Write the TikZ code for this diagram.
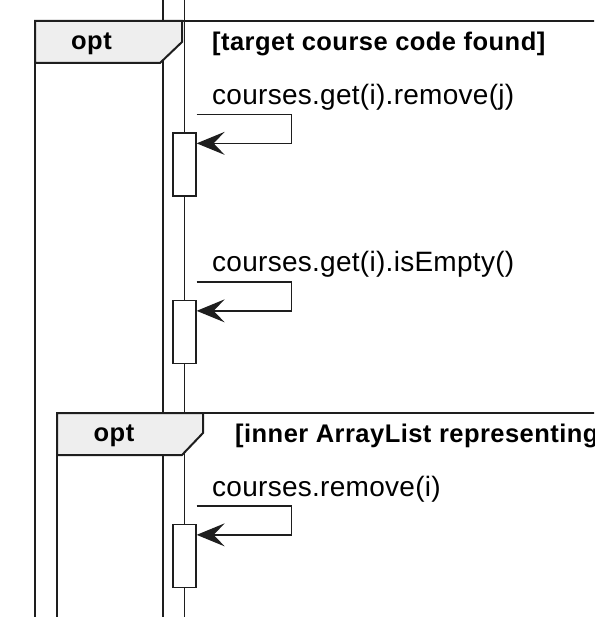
\documentclass[tikz,border=0pt]{standalone}
\usepackage{fontspec}
\setmainfont{Liberation Sans}
\usetikzlibrary{arrows.meta}
\definecolor{lineclr}{HTML}{1E1E1E}
\definecolor{tabgray}{HTML}{EEEEEE}

\begin{document}
\begin{tikzpicture}[x=1pt,y=-1pt,
  life/.style={draw=lineclr,line width=1.3pt},
  frame line/.style={draw=lineclr,line width=2pt},
  tab/.style={frame line,fill=tabgray,line join=miter},
  act box/.style={rectangle,draw=lineclr,fill=white,line width=1.3pt,
    minimum width=23pt,minimum height=63pt,inner sep=0pt},
  msg/.style={draw=lineclr,line width=1.3pt,
    -{Stealth[length=28pt,width=23pt,inset=11pt]}},
  msg text/.style={anchor=base west,inner sep=0pt,
    font=\fontsize{28}{30}\selectfont\addfontfeatures{LetterSpace=1}},
  tab text/.style={inner sep=0pt,
    font=\bfseries\fontsize{25.5}{28}\selectfont\addfontfeatures{LetterSpace=1.8}}]
  \clip (0,0) rectangle (594,617);

  % lifelines
  \coordinate (topA) at (163,0);
  \coordinate (botA) at (163,617);
  \coordinate (topB) at (184.5,0);
  \coordinate (botB) at (184.5,617);
  \draw[life] (topA) -- (botA);
  \draw[life] (topB) -- (botB);

  % outer opt
  \draw[frame line] (35,625) -- (35,21) -- (600,21);
  \filldraw[tab] (35,21) -- (182,21) -- (182,42) -- (160,63) -- (35,63) -- cycle;
  \node[tab text] (opt1) at (91.5,43.5) {opt};
  \node[tab text,anchor=west] (guard1) at (212,43.5) {[target course code found]};

  % inner opt
  \draw[frame line] (57,625) -- (57,413) -- (600,413);
  \filldraw[tab] (57,413) -- (203,413) -- (203,433) -- (182,455) -- (57,455) -- cycle;
  \node[tab text] (opt2) at (114,436) {opt};
  \node[tab text,anchor=west] (guard2) at (235,436) {[inner ArrayList representing};

  % activations
  \node[act box] (b1) at (184.5,164.5) {};
  \node[act box] (b2) at (184.5,332) {};
  \node[act box] (b3) at (184.5,556) {};

  % self messages
  \node[msg text] (m1) at (212,105) {courses.get(i).remove(j)};
  \draw[msg] ([yshift=18pt]b1.north east) -- ++(95,0) -- ++(0,29) -- ([yshift=-11pt]b1.north east);

  \node[msg text] (m2) at (212,271) {courses.get(i).isEmpty()};
  \draw[msg] ([yshift=18pt]b2.north east) -- ++(95,0) -- ++(0,29) -- ([yshift=-11pt]b2.north east);

  \node[msg text] (m3) at (212,496) {courses.remove(i)};
  \draw[msg] ([yshift=18pt]b3.north east) -- ++(95,0) -- ++(0,29) -- ([yshift=-11pt]b3.north east);
\end{tikzpicture}
\end{document}
